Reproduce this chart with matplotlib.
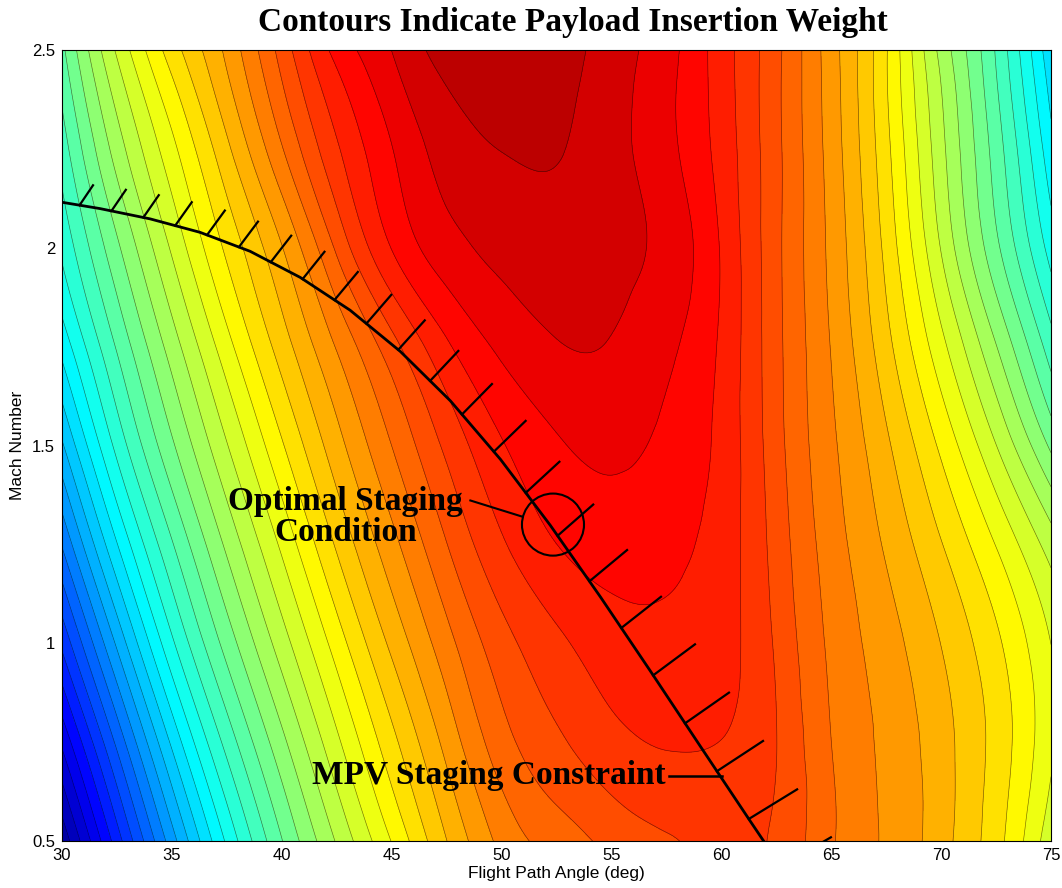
import numpy as np
import matplotlib
matplotlib.use("Agg")
import matplotlib.pyplot as plt
import matplotlib.tri as mtri
from matplotlib.colors import LinearSegmentedColormap
from matplotlib.patches import Ellipse

plt.rcParams.update({
    "font.family": "Liberation Sans",
    "axes.edgecolor": "#000000",
    "axes.linewidth": 0.8,
})

SERIF = "Liberation Serif"

# flight path angle (deg) and Mach number grid
angle = [30, 32.5, 35, 37.5, 40, 42.5, 45, 47.5, 50, 52.5,
         55, 57.5, 60, 62.5, 65, 67.5, 70, 72.5, 75]
mach = [0.5, 0.75, 1.0, 1.25, 1.5, 1.75, 2.0, 2.25, 2.5]

# payload insertion weight, normalised, one row per Mach number
w_m050 = [0.03, 0.155, 0.275, 0.385, 0.475, 0.55, 0.62, 0.69, 0.745, 0.772,
          0.793, 0.806, 0.82, 0.805, 0.765, 0.735, 0.70, 0.652, 0.58]
w_m075 = [0.10, 0.22, 0.338, 0.437, 0.517, 0.59, 0.659, 0.722, 0.776, 0.805,
          0.826, 0.835, 0.833, 0.81, 0.762, 0.733, 0.70, 0.658, 0.60]
w_m100 = [0.172, 0.29, 0.40, 0.486, 0.56, 0.63, 0.696, 0.753, 0.80, 0.828,
          0.846, 0.851, 0.842, 0.806, 0.757, 0.725, 0.69, 0.648, 0.595]
w_m125 = [0.24, 0.356, 0.45, 0.529, 0.60, 0.67, 0.73, 0.785, 0.83, 0.857,
          0.868, 0.864, 0.846, 0.8, 0.75, 0.711, 0.668, 0.618, 0.56]
w_m150 = [0.306, 0.412, 0.496, 0.57, 0.64, 0.705, 0.762, 0.815, 0.855, 0.878,
          0.886, 0.876, 0.85, 0.795, 0.743, 0.695, 0.638, 0.572, 0.495]
w_m175 = [0.365, 0.455, 0.535, 0.61, 0.678, 0.74, 0.80, 0.853, 0.886, 0.903,
          0.903, 0.886, 0.853, 0.793, 0.737, 0.675, 0.603, 0.525, 0.44]
w_m200 = [0.41, 0.495, 0.575, 0.648, 0.713, 0.79, 0.858, 0.895, 0.912, 0.919,
          0.914, 0.897, 0.855, 0.792, 0.732, 0.66, 0.57, 0.482, 0.395]
w_m225 = [0.44, 0.535, 0.612, 0.685, 0.76, 0.83, 0.88, 0.916, 0.929, 0.93,
          0.914, 0.888, 0.848, 0.792, 0.728, 0.65, 0.555, 0.465, 0.365]
w_m250 = [0.47, 0.575, 0.655, 0.72, 0.795, 0.865, 0.905, 0.938, 0.946, 0.94,
          0.917, 0.89, 0.845, 0.792, 0.725, 0.645, 0.54, 0.45, 0.34]

# MPV staging constraint
constraint_angle = [30.0, 31.73, 34.01, 36.28, 38.56, 40.84, 43.11, 45.39,
                    47.67, 49.95, 52.22, 54.50, 56.78, 59.05, 61.33, 63.61]
constraint_mach = [2.115, 2.099, 2.073, 2.039, 1.991, 1.925, 1.842, 1.738,
                   1.613, 1.465, 1.298, 1.117, 0.929, 0.739, 0.549, 0.361]

# optimal staging point
opt_angle, opt_mach = 52.34, 1.30

# MATLAB style jet
jet = LinearSegmentedColormap.from_list("mjet", [
    (0.0, (0, 0, 0.5)), (0.125, (0, 0, 1)), (0.375, (0, 1, 1)),
    (0.625, (1, 1, 0)), (0.875, (1, 0, 0)), (1.0, (0.5, 0, 0))])

Z = np.array([w_m050, w_m075, w_m100, w_m125, w_m150,
              w_m175, w_m200, w_m225, w_m250])
X, Y = np.meshgrid(angle, mach)
levels = np.linspace(0, 1, 43)

fig = plt.figure(figsize=(10.62, 8.88), dpi=100)
ax = fig.add_axes([62 / 1062, 47 / 888, 989 / 1062, 791 / 888])

# smooth the coarse grid with a cubic triangle interpolator
sx, sy = 1 / 2.5, 1 / 0.25
ny, nx = Z.shape
idx = np.arange(nx * ny).reshape(ny, nx)
a = idx[:-1, :-1].ravel()
b = idx[:-1, 1:].ravel()
c = idx[1:, 1:].ravel()
d = idx[1:, :-1].ravel()
tris = np.concatenate([np.stack([a, b, d], 1), np.stack([b, c, d], 1)])
tri = mtri.Triangulation(X.ravel() * sx, Y.ravel() * sy, tris)
interp = mtri.CubicTriInterpolator(tri, Z.ravel(), kind="min_E")
tri_f, z_f = mtri.UniformTriRefiner(tri).refine_field(
    Z.ravel(), triinterpolator=interp, subdiv=4)
tri_d = mtri.Triangulation(tri_f.x / sx, tri_f.y / sy, tri_f.triangles)

norm = plt.Normalize(0, 1)
ax.tricontourf(tri_d, z_f, levels=levels, cmap=jet, norm=norm)
ax.tricontour(tri_d, z_f, levels=levels, colors="k", linewidths=0.45,
              alpha=0.55)

ax.set_xlim(30, 75)
ax.set_ylim(0.5, 2.5)

ax.plot(constraint_angle, constraint_mach, color="k", lw=2.0, zorder=5)

# hatch marks on the feasible side of the constraint
tick_x = np.arange(30.8, 64.0, 1.45)
tick_y = np.interp(tick_x, constraint_angle, constraint_mach)
frac = np.clip((tick_x - tick_x[0]) / (62.5 - tick_x[0]), 0, 1)
ang = np.radians(56 - 26 * frac ** 1.5)
length = 24 + 34 * frac
base = ax.transData.transform(np.column_stack([tick_x, tick_y]))
tip = base + np.column_stack([length * np.cos(ang), length * np.sin(ang)])
tip = ax.transData.inverted().transform(tip)
for (x0, y0), (x1, y1) in zip(np.column_stack([tick_x, tick_y]), tip):
    ax.plot([x0, x1], [y0, y1], color="k", lw=1.6, zorder=5)

ax.add_patch(Ellipse((opt_angle, opt_mach), 62 / 21.96, 62 / 395,
                     fill=False, edgecolor="k", lw=1.5, zorder=6))
ax.plot([48.58, 50.95], [1.361, 1.320], color="k", lw=1.5, zorder=6)
ax.text(42.89, 1.32, "Optimal Staging\nCondition", ha="center", va="center",
        fontsize=24, fontweight="bold", family=SERIF, linespacing=1.0,
        zorder=7)

ax.text(41.38, 0.665, "MPV Staging Constraint", ha="left", va="center",
        fontsize=24, fontweight="bold", family=SERIF, zorder=7)
ax.plot([57.6, 60.05], [0.665, 0.665], color="k", lw=1.8, zorder=6)

ax.set_xticks([30, 35, 40, 45, 50, 55, 60, 65, 70, 75])
ax.set_yticks([0.5, 1, 1.5, 2, 2.5])
ax.set_yticklabels(["0.5", "1", "1.5", "2", "2.5"])
ax.tick_params(length=0, labelsize=12, pad=5)
ax.set_xlabel("Flight Path Angle (deg)", fontsize=12.5, labelpad=2)
ax.set_ylabel("Mach Number", fontsize=12.5)
ax.yaxis.set_label_coords(-0.037, 0.5)

fig.text(573 / 1062, 1 - 23 / 888, "Contours Indicate Payload Insertion Weight",
         ha="center", va="center", fontsize=24, fontweight="bold",
         family=SERIF)

fig.savefig("out.png", dpi=100, facecolor="white")
